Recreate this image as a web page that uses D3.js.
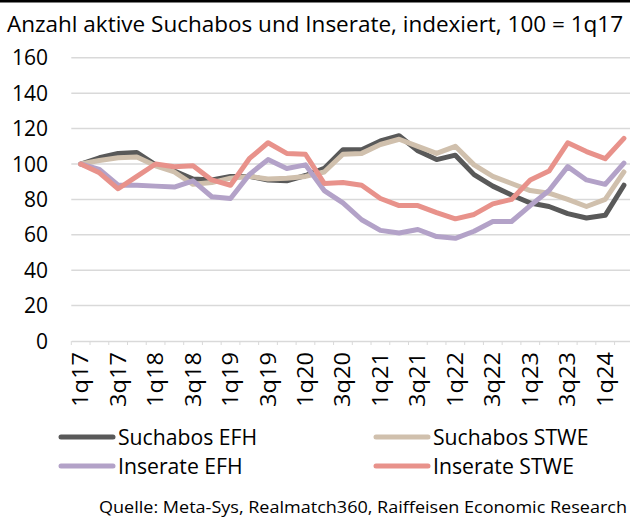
<!DOCTYPE html>
<html><head><meta charset="utf-8">
<script src="https://cdn.jsdelivr.net/npm/d3@7"></script>
<style>body{margin:0;background:#fff}svg{display:block;font-family:"Open Sans",sans-serif}</style>
</head><body><svg id="c" width="630" height="517"></svg>
<script>
const quarters = ["1q17","2q17","3q17","4q17","1q18","2q18","3q18","4q18","1q19","2q19","3q19","4q19","1q20","2q20","3q20","4q20","1q21","2q21","3q21","4q21","1q22","2q22","3q22","4q22","1q23","2q23","3q23","4q23","1q24","2q24"];
const suchabosEFH = [100,103.5,106,106.5,99.5,96,91.5,91,93,93,91,90.5,93.5,97.5,108,108,113,116,107.5,102.5,105,94,87.5,82.5,78,76,72,69.5,71,88];
const suchabosSTWE = [100,102,103.5,104,99,95.5,88.5,89.5,92,93,91.5,92,93,95.5,105.5,106,111,114,110,106,110,99.5,93,89,85,83.5,80,76,80,95.5];
const inserateEFH = [100,97,88,88,87.5,87,90.5,81.5,80.5,94,102.5,97.5,99.5,85,78,68.5,62.5,61,63,59,58,62,67.5,67.5,76.5,85,98.5,91,88.5,100.5];
const inserateSTWE = [100,95,86,93,100,98.5,99,91,88,103,112,106,105.5,89,89.5,88,80.5,76.5,76.5,72.5,69,71.5,77.5,80,91,96,112,107,103,114.5];
const yTicks = [0,20,40,60,80,100,120,140,160];
const seriesNames = ["Suchabos EFH","Suchabos STWE","Inserate EFH","Inserate STWE"];
const seriesColors = ["#595959","#d0c0ad","#b3a2c8","#e8928b"];
const title = "Anzahl aktive Suchabos und Inserate, indexiert, 100 = 1q17";
const source = "Quelle: Meta-Sys, Realmatch360, Raiffeisen Economic Research";

const svg = d3.select("#c");
const x = d3.scaleBand().domain(quarters).range([71.3, 633.3]);
const y = d3.scaleLinear().domain([0,160]).range([341, 57.8]);

svg.append("rect").attr("x",0).attr("y",0).attr("width",630).attr("height",2.5).attr("fill","#000");
svg.append("text").attr("x",7).attr("y",32).attr("font-size",22.5)
  .attr("textLength",616).attr("lengthAdjust","spacingAndGlyphs").attr("fill","#000").text(title);

// gridlines
svg.append("g").selectAll("line").data(yTicks.filter(d=>d>0)).join("line")
  .attr("x1",71.3).attr("x2",630).attr("y1",d=>y(d)).attr("y2",d=>y(d))
  .attr("stroke","#d9d9d9").attr("stroke-width",1.5);

// y labels
svg.append("g").selectAll("text").data(yTicks).join("text")
  .attr("x",48).attr("y",d=>y(d)).attr("dy","0.36em").attr("text-anchor","end")
  .attr("font-size",21).attr("fill","#000").text(d=>d);

// x axis
const xAxis = d3.axisBottom(x).tickSize(0).tickFormat("");
const gx = svg.append("g").attr("transform",`translate(0,${y(0)})`).call(xAxis);
gx.select(".domain").attr("stroke","#d9d9d9").attr("stroke-width",1.5);
svg.append("g").selectAll("line").data(quarters).join("line")
  .attr("x1",d=>x(d)).attr("x2",d=>x(d)).attr("y1",y(0)).attr("y2",y(0)+4)
  .attr("stroke","#d9d9d9").attr("stroke-width",1);
svg.append("g").selectAll("text").data(quarters.filter((d,i)=>i%2===0)).join("text")
  .attr("transform",d=>`translate(${x(d)+x.bandwidth()/2},352) rotate(-90)`)
  .attr("text-anchor","end").attr("dy","0.36em").attr("font-size",21)
  .attr("textLength",55).attr("lengthAdjust","spacingAndGlyphs").attr("fill","#000").text(d=>d);

// lines
const data = [suchabosEFH, suchabosSTWE, inserateEFH, inserateSTWE];
const line = d3.line().x((d,i)=>x(quarters[i])+x.bandwidth()/2).y(d=>y(d));
svg.append("g").selectAll("path").data(data).join("path")
  .attr("d",line).attr("fill","none").attr("stroke",(d,i)=>seriesColors[i])
  .attr("stroke-width",5).attr("stroke-linejoin","round").attr("stroke-linecap","round");

// legend
const legPos = [[60,437],[375,437],[60,466],[375,466]];
const lg = svg.append("g").selectAll("g").data(seriesNames).join("g")
  .attr("transform",(d,i)=>`translate(${legPos[i][0]},${legPos[i][1]})`);
lg.append("line").attr("x1",1).attr("x2",53).attr("stroke",(d,i)=>seriesColors[i]).attr("stroke-width",5).attr("stroke-linecap","round");
lg.append("text").attr("x",58).attr("dy","0.36em").attr("font-size",21.2).attr("fill","#000").text(d=>d);

svg.append("text").attr("x",627).attr("y",513).attr("text-anchor","end").attr("font-size",17)
  .attr("textLength",528).attr("lengthAdjust","spacingAndGlyphs").attr("fill","#000").text(source);
</script></body></html>
